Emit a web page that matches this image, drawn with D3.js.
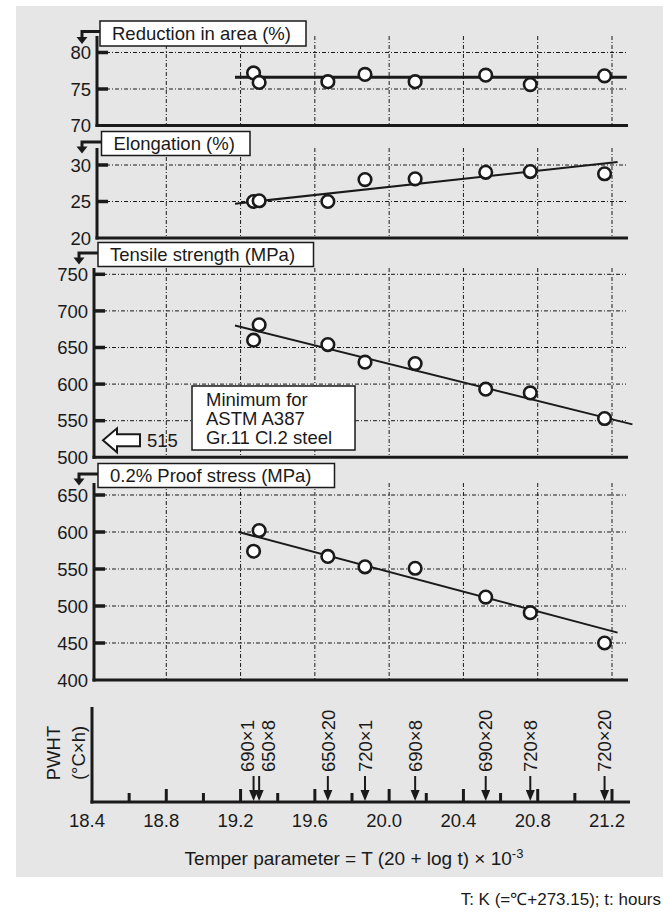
<!DOCTYPE html>
<html><head><meta charset="utf-8">
<script src="https://cdn.jsdelivr.net/npm/d3@7"></script>
<style>
html,body{margin:0;padding:0;background:#fff;}
svg{display:block;font-family:"Liberation Sans",Arial,Helvetica,sans-serif;}
</style></head><body>
<svg id="chart" width="663" height="918"></svg>
<script>
// PWHT conditions (°C × h) and their temper parameters
const pwhtLabels = ["690×1", "650×8", "650×20", "720×1", "690×8", "690×20", "720×8", "720×20"];
const temperParam = [19.27, 19.30, 19.67, 19.87, 20.14, 20.52, 20.76, 21.16];

// mechanical properties, one value per PWHT condition
const reductionArea = [77.2, 75.9, 76.0, 77.0, 76.0, 76.9, 75.6, 76.8];
const elongation = [25.0, 25.1, 25.0, 28.0, 28.1, 29.0, 29.1, 28.8];
const tensileStrength = [660, 681, 654, 630, 628, 593, 588, 553];
const proofStress = [574, 602, 567, 553, 551, 512, 491, 450];

// regression lines as [temper parameter, value] end points
const reductionFit = [[19.17, 76.6], [21.28, 76.6]];
const elongationFit = [[19.17, 24.7], [21.23, 30.4]];
const tensileFit = [[19.17, 680], [21.31, 545]];
const proofFit = [[19.19, 600], [21.23, 464]];

// tick values
const xTicks = [18.4, 18.8, 19.2, 19.6, 20.0, 20.4, 20.8, 21.2];
const xMinorTicks = [18.6, 19.0, 19.4, 19.8, 20.2, 20.6, 21.0];
const reductionTicks = [70, 75, 80];
const elongationTicks = [20, 25, 30];
const tensileTicks = [500, 550, 600, 650, 700, 750];
const proofTicks = [400, 450, 500, 550, 600, 650];
const tensileMinimum = 515;

const INK = "#1a1a1a";
const FS = 18.5;
const svg = d3.select("#chart");

// grey plate behind the chart
svg.append("rect").attr("x", 16).attr("y", 6).attr("width", 647).attr("height", 871).attr("fill", "#e6e6e6");

const x = d3.scaleLinear().domain([18.4, 21.2]).range([92, 612]);
const gridRight = 626, axisRight = 628;

const panels = [
  { title: "Reduction in area (%)", values: reductionArea, fit: reductionFit, ticks: reductionTicks,
    range: [125.5, 52.5], top: 36, axisX: 97, box: [100, 21, 206, 25], fitWidth: 3 },
  { title: "Elongation (%)", values: elongation, fit: elongationFit, ticks: elongationTicks,
    range: [238, 165], top: 148, axisX: 97, box: [101.5, 131.5, 148.5, 24], fitWidth: 2 },
  { title: "Tensile strength (MPa)", values: tensileStrength, fit: tensileFit, ticks: tensileTicks,
    range: [457.3, 274.3], top: 268, axisX: 94, box: [98, 242.5, 215.5, 24], fitWidth: 2 },
  { title: "0.2% Proof stress (MPa)", values: proofStress, fit: proofFit, ticks: proofTicks,
    range: [680, 495], top: 483, axisX: 94, box: [98, 463.5, 236.5, 24], fitWidth: 2 }
];

panels.forEach((p, i) => {
  const g = svg.append("g");
  const y = d3.scaleLinear().domain(d3.extent(p.ticks)).range(p.range);
  p.y = y;
  const bottom = y(d3.min(p.ticks));

  // dash-dot grid
  g.selectAll(".vg").data(xTicks.slice(1)).join("line")
    .attr("x1", d => x(d)).attr("x2", d => x(d))
    .attr("y1", p.top).attr("y2", bottom)
    .attr("stroke", INK).attr("stroke-width", 1).attr("stroke-dasharray", "4,2,1,2");
  g.selectAll(".hg").data(p.ticks.slice(1)).join("line")
    .attr("x1", p.axisX).attr("x2", gridRight)
    .attr("y1", d => y(d)).attr("y2", d => y(d))
    .attr("stroke", INK).attr("stroke-width", 1).attr("stroke-dasharray", "4,2,1,2");

  // axes
  g.append("line").attr("x1", p.axisX).attr("x2", p.axisX).attr("y1", p.top).attr("y2", bottom + 1.5)
    .attr("stroke", INK).attr("stroke-width", 3);
  g.append("line").attr("x1", p.axisX - 1.5).attr("x2", axisRight).attr("y1", bottom).attr("y2", bottom)
    .attr("stroke", INK).attr("stroke-width", 3);
  g.selectAll(".tk").data(p.ticks.slice(1)).join("line")
    .attr("x1", p.axisX).attr("x2", p.axisX + 11)
    .attr("y1", d => y(d)).attr("y2", d => y(d))
    .attr("stroke", INK).attr("stroke-width", 3.5);
  g.selectAll(".tl").data(p.ticks).join("text")
    .attr("x", p.axisX - 6).attr("y", d => y(d)).attr("dy", "0.36em")
    .attr("text-anchor", "end").attr("font-size", FS).attr("fill", INK)
    .text(d => d);

  // regression line
  g.append("path").datum(p.fit)
    .attr("d", d3.line().x(d => x(d[0])).y(d => y(d[1])))
    .attr("stroke", INK).attr("stroke-width", p.fitWidth).attr("fill", "none");

  // measured points
  g.selectAll(".pt").data(p.values).join("circle")
    .attr("cx", (d, j) => x(temperParam[j])).attr("cy", d => y(d))
    .attr("r", 6.3).attr("fill", "#fff").attr("stroke", INK).attr("stroke-width", 2.6);

  // title box with bent arrow pointing down to the scale
  const [bx, by, bw, bh] = p.box;
  g.append("path")
    .attr("d", `M${bx},${by + 10.5}H${p.axisX - 15}V${by + bh - 8}`)
    .attr("stroke", INK).attr("stroke-width", 3).attr("fill", "none");
  g.append("path")
    .attr("d", `M${p.axisX - 20.5},${by + bh - 9}H${p.axisX - 9.5}L${p.axisX - 15},${by + bh - 2}Z`)
    .attr("fill", INK);
  g.append("rect").attr("x", bx).attr("y", by).attr("width", bw).attr("height", bh)
    .attr("fill", "#fff").attr("stroke", INK).attr("stroke-width", 1.5);
  g.append("text").attr("x", bx + 12).attr("y", by + bh / 2).attr("dy", "0.36em")
    .attr("font-size", FS).attr("fill", INK).text(p.title);
});

// minimum tensile strength note
{
  const y = panels[2].y;
  const g = svg.append("g");
  const cy = y(tensileMinimum) - 6;
  const ax = 103;
  g.append("path")
    .attr("d", `M${ax},${cy}L${ax + 14},${cy - 12}V${cy - 6}H${ax + 37}V${cy + 6}H${ax + 14}V${cy + 12}Z`)
    .attr("fill", "#fff").attr("stroke", INK).attr("stroke-width", 2);
  g.append("text").attr("x", ax + 44).attr("y", cy).attr("dy", "0.36em")
    .attr("font-size", FS).attr("fill", INK).text(tensileMinimum);
  g.append("rect").attr("x", 192).attr("y", 386).attr("width", 163).attr("height", 64)
    .attr("fill", "#fff").attr("stroke", INK).attr("stroke-width", 1.5);
  ["Minimum for", "ASTM A387", "Gr.11 Cl.2 steel"].forEach((t, k) => {
    g.append("text").attr("x", 206).attr("y", 406 + k * 19).attr("font-size", FS).attr("fill", INK).text(t);
  });
}

// PWHT condition panel
{
  const g = svg.append("g");
  const axisY = 802, axisX = 92;
  g.append("line").attr("x1", axisX).attr("x2", axisX).attr("y1", 707).attr("y2", axisY + 1.5)
    .attr("stroke", INK).attr("stroke-width", 3);
  g.append("line").attr("x1", axisX - 1.5).attr("x2", 630).attr("y1", axisY).attr("y2", axisY)
    .attr("stroke", INK).attr("stroke-width", 3);
  g.selectAll(".maj").data(xTicks.slice(1)).join("line")
    .attr("x1", d => x(d)).attr("x2", d => x(d)).attr("y1", axisY - 13).attr("y2", axisY)
    .attr("stroke", INK).attr("stroke-width", 3);
  g.selectAll(".min").data(xMinorTicks).join("line")
    .attr("x1", d => x(d)).attr("x2", d => x(d)).attr("y1", axisY - 9).attr("y2", axisY)
    .attr("stroke", INK).attr("stroke-width", 3);
  g.selectAll(".xl").data(xTicks).join("text")
    .attr("x", d => x(d) - 5).attr("y", 827).attr("text-anchor", "middle")
    .attr("font-size", FS).attr("fill", INK).text(d => d.toFixed(1));

  // arrows marking each PWHT condition
  temperParam.forEach((v, j) => {
    const px = x(v);
    g.append("line").attr("x1", px).attr("x2", px).attr("y1", 776).attr("y2", 792)
      .attr("stroke", INK).attr("stroke-width", 2);
    g.append("path").attr("d", `M${px - 4.5},${790}H${px + 4.5}L${px},${801}Z`).attr("fill", INK);
    // spread labels of conditions that sit close together
    let nudge = 0;
    if (j + 1 < temperParam.length && x(temperParam[j + 1]) - px < 12) nudge = -6;
    if (j > 0 && px - x(temperParam[j - 1]) < 12) nudge = 9;
    g.append("text")
      .attr("transform", `translate(${px + nudge},772) rotate(-90)`)
      .attr("dy", "0.36em").attr("font-size", FS).attr("fill", INK).text(pwhtLabels[j]);
  });

  g.append("text").attr("transform", "translate(53,753) rotate(-90)").attr("dy", "0.36em")
    .attr("text-anchor", "middle").attr("font-size", FS).attr("fill", INK).text("PWHT");
  g.append("text").attr("transform", "translate(78,753) rotate(-90)").attr("dy", "0.36em")
    .attr("text-anchor", "middle").attr("font-size", FS).attr("fill", INK).text("(°C×h)");

  const title = g.append("text").attr("x", 354).attr("y", 865).attr("text-anchor", "middle")
    .attr("font-size", 19).attr("fill", INK);
  title.append("tspan").text("Temper parameter = T (20 + log t) × 10");
  title.append("tspan").attr("dy", -7).attr("font-size", 13).text("-3");
}

svg.append("text").attr("x", 661).attr("y", 905).attr("text-anchor", "end")
  .attr("font-size", 17).attr("fill", INK).text("T: K (=℃+273.15); t: hours");
</script>
</body></html>
